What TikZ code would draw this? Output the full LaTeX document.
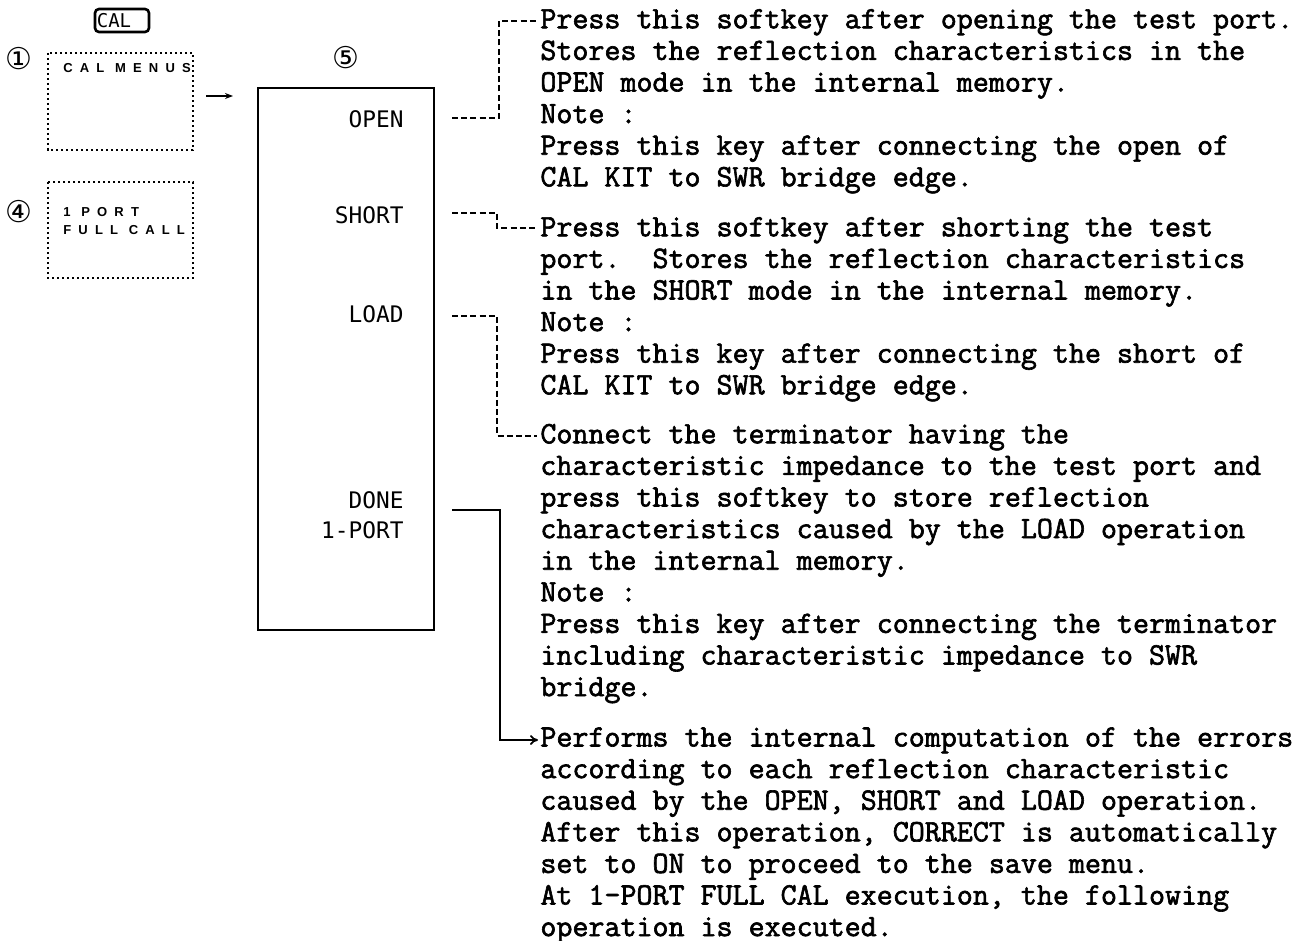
\documentclass[tikz,border=0pt]{standalone}
\usepackage{fontspec}
\setmainfont{Liberation Serif}
\newfontfamily\descfont{Latin Modern Mono}[FakeBold=2]
\newfontfamily\keyfont{DejaVu Sans Mono}
\newfontfamily\menufont{Liberation Sans}[LetterSpace=55]
\newfontfamily\symfont{DejaVu Sans}
\usetikzlibrary{arrows.meta}
\tikzset{
  desc/.style={anchor=north west, inner sep=0pt, align=left,
    font=\descfont\fontsize{15.55}{15.8}\selectfont},
  softkey/.style={anchor=east, inner sep=0pt, align=right,
    font=\keyfont\fontsize{11.4}{15}\selectfont},
  menubox/.style={draw, line width=0.7pt, dash pattern=on 1.2pt off 1.3pt},
  menutext/.style={anchor=west, inner sep=0pt, align=left,
    font=\menufont\bfseries\fontsize{6.5}{9}\selectfont},
  circnum/.style={inner sep=0pt, font=\symfont\fontsize{15}{16}\selectfont},
  dconn/.style={line width=0.7pt, dash pattern=on 3pt off 1.6pt},
  sconn/.style={line width=0.9pt},
}
\begin{document}
\begin{tikzpicture}[x=0.5pt,y=-0.5pt]
\useasboundingbox (0,0) rectangle (1294,941);

% CAL hard key
\draw[line width=1.3pt, rounded corners=2pt] (95,9) rectangle (149,32);
\node[inner sep=0pt, font=\keyfont\fontsize{9.5}{10}\selectfont] (calkey) at (114,20.5) {CAL};

% circled numbers
\node[circnum] (n1) at (19,59) {①};
\node[circnum] (n4) at (19,212) {④};
\node[circnum] (n5) at (346,58) {⑤};

% left menu boxes
\draw[menubox] (48,53) rectangle (193,150);
\node[menutext] (calmenus) at (63,68) {CAL MENUS};
\draw[menubox] (48,182) rectangle (193,278);
\node[menutext] (oneport) at (63,221) {1 PORT\\FULL CALL};

% main softkey box
\draw[line width=1.1pt] (258,88) rectangle (434,630);
\coordinate (menuin) at (233,96);
\coordinate (menuout) at (206,96);
\draw[sconn, -{Stealth[length=4pt, width=3pt]}] (menuout) -- (menuin);

\node[softkey] (open) at (404,119) {OPEN};
\node[softkey] (short) at (404,215) {SHORT};
\node[softkey] (load) at (404,314) {LOAD};
\node[softkey] (done) at (404,515) {DONE\\1-PORT};

% description blocks
\node[desc] (d1) at (540,5.8) {\strut Press this softkey after opening the test port.\\
Stores the reflection characteristics in the\\
OPEN mode in the internal memory.\\
Note :\\
Press this key after connecting the open of\\
CAL KIT to SWR bridge edge.};

\node[desc] (d2) at (540,213.8) {\strut Press this softkey after shorting the test\\
port.~~Stores the reflection characteristics\\
in the SHORT mode in the internal memory.\\
Note :\\
Press this key after connecting the short of\\
CAL KIT to SWR bridge edge.};

\node[desc] (d3) at (540,420.8) {\strut Connect the terminator having the\\
characteristic impedance to the test port and\\
press this softkey to store reflection\\
characteristics caused by the LOAD operation\\
in the internal memory.\\
Note :\\
Press this key after connecting the terminator\\
including characteristic impedance to SWR\\
bridge.};

\node[desc] (d4) at (540,724) {\strut Performs the internal computation of the errors\\
according to each reflection characteristic\\
caused by the OPEN, SHORT and LOAD operation.\\
After this operation, CORRECT is automatically\\
set to ON to proceed to the save menu.\\
At 1-PORT FULL CAL execution, the following\\
operation is executed.};

% connectors
\coordinate (openout) at (452,118);
\coordinate (shortout) at (452,213);
\coordinate (loadout) at (452,316);
\coordinate (doneout) at (452,510);
\coordinate (d1in) at (537,21);
\coordinate (d2in) at (537,228);
\coordinate (d3in) at (537,436);
\coordinate (d4in) at (538,740);

\draw[dconn] (openout) -| (499,21) -- (d1in);
\draw[dconn] (shortout) -| (497,228) -- (d2in);
\draw[dconn] (loadout) -| (497,436) -- (d3in);
\draw[sconn, -{To[length=4pt,width=5pt]}] (doneout) -| (500,740) -- (d4in);
\end{tikzpicture}
\end{document}
